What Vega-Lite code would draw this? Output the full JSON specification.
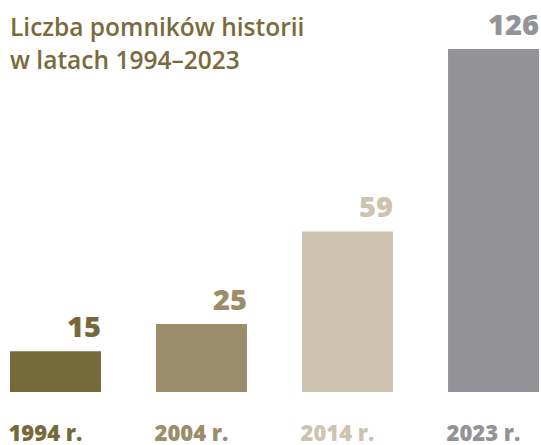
{
  "$schema": "https://vega.github.io/schema/vega-lite/v6.json",
  "width": 529,
  "height": 343,
  "autosize": {"type": "none"},
  "padding": {"left": 10, "top": 49, "right": 2, "bottom": 53},
  "background": "white",
  "title": {
    "text": ["Liczba pomników historii", "w latach 1994–2023"],
    "anchor": "start",
    "orient": "top",
    "frame": "group",
    "baseline": "top",
    "offset": 0,
    "dy": 62,
    "font": "Open Sans",
    "fontSize": 24.5,
    "fontWeight": 600,
    "lineHeight": 33,
    "color": "#7a6a3c"
  },
  "data": {
    "values": [
      {"rok": "1994 r.", "liczba": 15},
      {"rok": "2004 r.", "liczba": 25},
      {"rok": "2014 r.", "liczba": 59},
      {"rok": "2023 r.", "liczba": 126}
    ]
  },
  "encoding": {
    "x": {
      "field": "rok",
      "type": "nominal",
      "sort": null,
      "scale": {"paddingInner": 0.377, "paddingOuter": 0},
      "axis": {
        "title": null,
        "domain": false,
        "ticks": false,
        "labelAngle": 0,
        "labelAlign": "left",
        "labelOffset": -47,
        "labelBaseline": "alphabetic",
        "labelPadding": 48,
        "labelFont": "Open Sans",
        "labelFontSize": 22,
        "labelFontWeight": 800,
        "labelColor": {
          "condition": [
            {"test": "datum.value == '1994 r.'", "value": "#776a3a"},
            {"test": "datum.value == '2004 r.'", "value": "#9c8d6a"},
            {"test": "datum.value == '2014 r.'", "value": "#cdc4b0"}
          ],
          "value": "#939397"
        }
      }
    },
    "y": {
      "field": "liczba",
      "type": "quantitative",
      "scale": {"domain": [0, 126], "nice": false, "zero": true},
      "axis": null
    },
    "color": {
      "field": "rok",
      "type": "nominal",
      "scale": {
        "domain": ["1994 r.", "2004 r.", "2014 r.", "2023 r."],
        "range": ["#776a3a", "#9c8d6a", "#cdc4b0", "#939397"]
      },
      "legend": null
    }
  },
  "layer": [
    {"mark": {"type": "bar"}},
    {
      "mark": {
        "type": "text",
        "align": "right",
        "baseline": "alphabetic",
        "dy": -14,
        "font": "Open Sans",
        "fontSize": 29,
        "fontWeight": 800
      },
      "encoding": {
        "x": {"field": "rok", "type": "nominal", "sort": null, "bandPosition": 1},
        "text": {"field": "liczba", "type": "quantitative"}
      }
    }
  ],
  "config": {"view": {"stroke": null}}
}
